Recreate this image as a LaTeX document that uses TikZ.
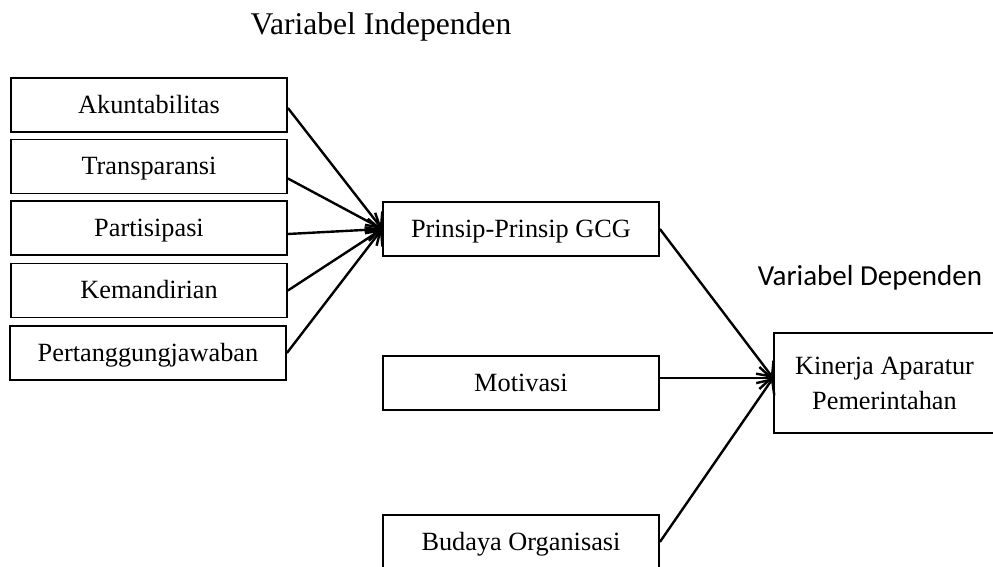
\documentclass[tikz,border=0pt]{standalone}
\usepackage{fontspec}
\setmainfont{Liberation Serif}
\newfontfamily\calibri{Carlito}
\usetikzlibrary{arrows.meta}

\begin{document}
\begin{tikzpicture}[x=0.5pt, y=-0.5pt, >={Straight Barb[length=6pt,width=11pt]}]
        \tikzstyle{var}=[draw, line width=0.9pt, shape=rectangle, minimum width=138pt, minimum height=27pt, inner sep=0pt, text height=10.5pt, text depth=2pt, font=\fontsize{13.15}{17.5}\selectfont]
        \tikzstyle{link}=[->, line width=1.2pt]
        \useasboundingbox (0,0) rectangle (993,567);

        \node(title) at (381,27){\fontsize{15.8}{19}\selectfont Variabel Independen};
        \node(dep) at (870,278){\calibri\fontsize{14.5}{17}\selectfont Variabel Dependen};

        \node[var](akun) at (149,105){Akuntabilitas};
        \node[var](trans) at (149,166.5){Transparansi};
        \node[var](part) at (149,228){Partisipasi};
        \node[var](mandiri) at (149,290.5){Kemandirian};
        \node[var](tanggung) at (148,353){Pertanggungjawaban};
        \node[var](gcg) at (521,229){Prinsip-Prinsip GCG};
        \node[var](motiv) at (521,383){Motivasi};
        \node[var](budaya) at (521,542){Budaya Organisasi};
        \node[var, minimum width=110.5pt, minimum height=50pt, text height=, text depth=, align=center](kinerja) at (884.5,383){Kinerja Aparatur\\Pemerintahan};

        \draw[link] ([yshift=-1.5pt]akun.east) -- (gcg.west);
        \draw[link] ([yshift=-6pt]trans.east) -- (gcg.west);
        \draw[link] ([yshift=-3pt]part.east) -- (gcg.west);
        \draw[link] (mandiri.east) -- (gcg.west);
        \draw[link] (tanggung.east) -- (gcg.west);
        \draw[link] (gcg.east) -- ([yshift=2.5pt]kinerja.west);
        \draw[link] ([yshift=2.5pt]motiv.east) -- ([yshift=2.5pt]kinerja.west);
        \draw[link] (budaya.east) -- ([yshift=2.5pt]kinerja.west);

        \end{tikzpicture}
\end{document}
